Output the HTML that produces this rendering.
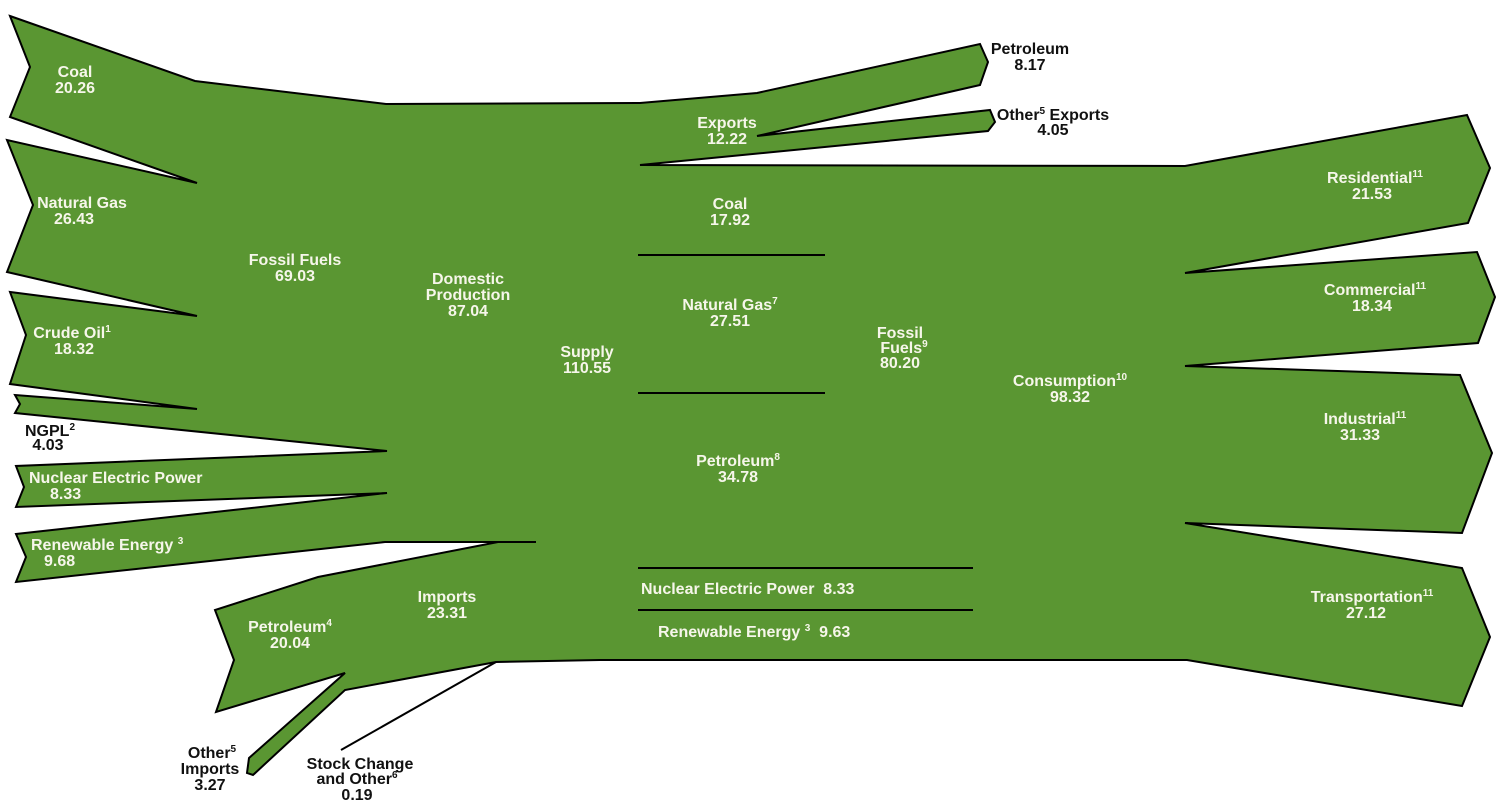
<!DOCTYPE html>
<html><head><meta charset="utf-8"><style>
html,body{margin:0;padding:0;background:#fff;}
svg{display:block;}
text{font-family:"Liberation Sans",Arial,sans-serif;font-weight:bold;font-size:16px;}
.w{fill:#f6f6ea;}
.b{fill:#111;}
</style></head><body>
<svg width="1500" height="812" viewBox="0 0 1500 812" xmlns="http://www.w3.org/2000/svg">
<path fill="#5a9632" stroke="#000" stroke-width="2" stroke-linejoin="miter" d="
M10,16 L195,81 L386,104 L640,103 L757,93 L980,44 L988,62 L980,85 L757,136 L990,110 L995,122 L988,131 L640,165
L1185,166 L1467,115 L1490,168 L1468,223 L1185,273 L1477,252 L1495,297 L1478,343 L1185,366 L1460,375 L1492,453 L1462,533 L1185,523 L1462,568 L1490,637 L1462,706 L1187,660
L600,660 L496,662 L345,690 L253,775 L247,773 L249,758 L345,673 L216,712 L234,660 L215,610 L318,577 L498,542 L536,542 L385,542
L16,582 L26,557 L16,534 L387,493 L16,507 L24,487 L16,466 L387,451 L15,413 L20,404 L15,395 L197,409 L10,384 L26,335 L10,292 L197,316 L7,272 L33,205 L7,140 L197,183 L10,117 L30,67 Z"/>
<g stroke="#000" stroke-width="2">
<line x1="496" y1="662" x2="341" y2="750"/>
<line x1="638" y1="255" x2="825" y2="255"/>
<line x1="638" y1="393" x2="825" y2="393"/>
<line x1="638" y1="568" x2="973" y2="568"/>
<line x1="638" y1="610" x2="973" y2="610"/>
</g>
<g text-anchor="middle" class="w">
<text x="75" y="77">Coal</text><text x="75" y="93">20.26</text>
<text x="82" y="208">Natural Gas</text><text x="74" y="224">26.43</text>
<text x="295" y="265">Fossil Fuels</text><text x="295" y="281">69.03</text>
<text x="468" y="284">Domestic</text><text x="468" y="300">Production</text><text x="468" y="316">87.04</text>
<text x="72" y="338">Crude Oil<tspan font-size="10" dy="-6">1</tspan></text><text x="74" y="354">18.32</text>
<text x="447" y="602">Imports</text><text x="447" y="618">23.31</text>
<text x="290" y="632">Petroleum<tspan font-size="10" dy="-6">4</tspan></text><text x="290" y="648">20.04</text>
<text x="587" y="357">Supply</text><text x="587" y="373">110.55</text>
<text x="727" y="128">Exports</text><text x="727" y="144">12.22</text>
<text x="730" y="209">Coal</text><text x="730" y="225">17.92</text>
<text x="730" y="310">Natural Gas<tspan font-size="10" dy="-6">7</tspan></text><text x="730" y="326">27.51</text>
<text x="738" y="466">Petroleum<tspan font-size="10" dy="-6">8</tspan></text><text x="738" y="482">34.78</text>
<text x="900" y="338">Fossil</text><text x="904" y="353">Fuels<tspan font-size="10" dy="-6">9</tspan></text><text x="900" y="368">80.20</text>
<text x="1070" y="386">Consumption<tspan font-size="10" dy="-6">10</tspan></text><text x="1070" y="402">98.32</text>
<text x="1375" y="183">Residential<tspan font-size="10" dy="-6">11</tspan></text><text x="1372" y="199">21.53</text>
<text x="1375" y="295">Commercial<tspan font-size="10" dy="-6">11</tspan></text><text x="1372" y="311">18.34</text>
<text x="1365" y="424">Industrial<tspan font-size="10" dy="-6">11</tspan></text><text x="1360" y="440">31.33</text>
<text x="1372" y="602">Transportation<tspan font-size="10" dy="-6">11</tspan></text><text x="1366" y="618">27.12</text>
</g>
<g class="w">
<text x="29" y="483">Nuclear Electric Power</text><text x="50" y="499">8.33</text>
<text x="31" y="550">Renewable Energy <tspan font-size="10" dy="-6">3</tspan></text><text x="44" y="566">9.68</text>
<text x="641" y="594">Nuclear Electric Power&#160;&#160;8.33</text>
<text x="658" y="637">Renewable Energy <tspan font-size="10" dy="-6">3</tspan><tspan dy="6">&#160;&#160;9.63</tspan></text>
</g>
<g text-anchor="middle" class="b">
<text x="50" y="436">NGPL<tspan font-size="10" dy="-6">2</tspan></text><text x="48" y="450">4.03</text>
<text x="1030" y="54">Petroleum</text><text x="1030" y="70">8.17</text>
<text x="1053" y="120">Other<tspan font-size="10" dy="-6">5</tspan><tspan dy="6"> Exports</tspan></text><text x="1053" y="135">4.05</text>
<text x="212" y="758">Other<tspan font-size="10" dy="-6">5</tspan></text><text x="210" y="774">Imports</text><text x="210" y="790">3.27</text>
<text x="360" y="769">Stock Change</text><text x="357" y="784">and Other<tspan font-size="10" dy="-6">6</tspan></text><text x="357" y="800">0.19</text>
</g>
</svg>
</body></html>
